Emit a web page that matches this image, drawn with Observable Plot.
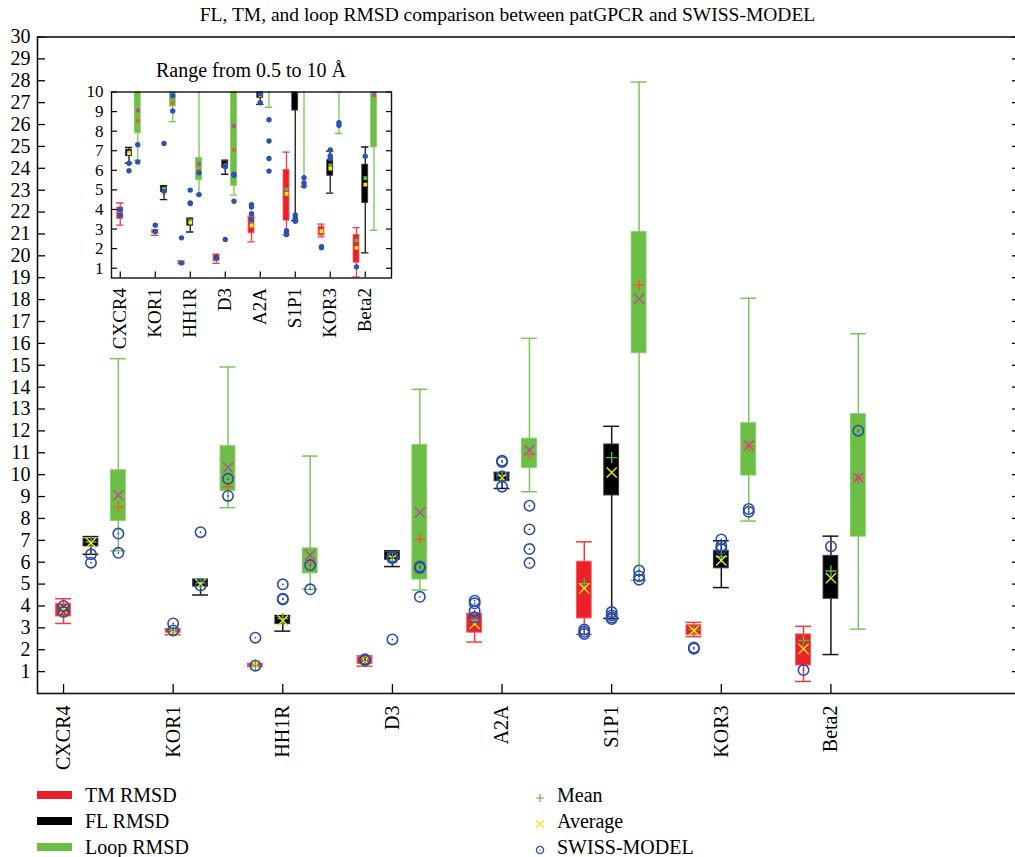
<!DOCTYPE html>
<html><head><meta charset="utf-8">
<script src="https://cdn.jsdelivr.net/npm/d3@7"></script>
<script src="https://cdn.jsdelivr.net/npm/@observablehq/plot@0.6"></script>
<style>
body{margin:0;width:1015px;height:857px;overflow:hidden;background:#fff;position:relative;font-family:"Liberation Serif",serif;color:#000}
#title{position:absolute;left:0;top:0;width:1015px;text-align:center;font-size:19.5px;line-height:30px}
#main{position:absolute;left:0;top:26px}
#insetTitle{position:absolute;left:101px;width:300px;top:56px;text-align:center;font-size:20px;line-height:28px}
#inset{position:absolute;left:60px;top:84px}
.lg{position:absolute;height:26px;line-height:26px;font-size:20px;white-space:nowrap}
.sw{position:absolute;width:35px;height:8px}
</style></head><body>
<div id="title">FL, TM, and loop RMSD comparison between patGPCR and SWISS-MODEL</div>
<div id="main"></div>
<div id="insetTitle">Range from 0.5 to 10 Å</div>
<div id="inset"></div>
<div id="legend"></div>
<script>
// ---- data (Å) ----
const groups = ["CXCR4","KOR1","HH1R","D3","A2A","S1P1","KOR3","Beta2"];

const tmLo   = [3.20, 2.68, 1.24, 1.25, 2.35, 2.70, 2.60, 0.55];
const tmQ1   = [3.52, 2.78, 1.27, 1.35, 2.78, 3.43, 2.67, 1.28];
const tmQ3   = [4.10, 2.93, 1.35, 1.66, 3.62, 6.02, 3.12, 2.70];
const tmHi   = [4.33, 2.96, 1.37, 1.72, 3.66, 6.93, 3.25, 3.07];
const tmMean = [3.86, 2.88, 1.31, 1.52, 3.36, 5.03, 2.92, 2.42];
const tmAvg  = [3.83, 2.87, 1.30, 1.50, 3.18, 4.80, 2.88, 2.04];
const tmSwiss = [[4.00,3.72],[3.20,2.88],[1.27,2.55],[1.52,1.56],[4.24,4.12,3.78,3.48],[2.92,2.82,2.72],[2.10,2.05],[1.07]];

const flLo   = [6.36, 4.50, 2.85, 5.80, 9.37, 3.43, 4.84, 1.78];
const flQ1   = [6.72, 4.88, 3.17, 6.11, 9.70, 9.05, 5.72, 4.33];
const flQ3   = [7.06, 5.17, 3.49, 6.45, 10.08, 11.38, 6.52, 6.29];
const flHi   = [7.17, 5.22, 3.56, 6.52, 10.10, 12.21, 6.98, 7.19];
const flMean = [6.92, 5.05, 3.42, 6.25, 9.95, 10.78, 6.25, 5.60];
const flAvg  = [6.88, 5.00, 3.33, 6.18, 9.85, 10.10, 6.08, 5.27];
const flSwiss = [[6.36,5.98],[4.93,7.37],[4.99,4.33,4.30],[6.24,6.18,2.47],[10.64,10.58,9.92,9.45],[3.72,3.57,3.47,3.40],[7.04,6.74,6.60],[6.72]];

const loopLo   = [6.52, 8.49, 4.76, 4.73, 9.22, 5.17, 7.88, 2.94];
const loopQ1   = [7.89, 9.26, 5.49, 5.21, 10.31, 15.55, 9.96, 7.17];
const loopQ3   = [10.20, 11.30, 6.63, 11.35, 11.64, 21.08, 12.35, 12.76];
const loopHi   = [15.30, 14.92, 10.85, 13.90, 16.23, 27.94, 18.06, 16.44];
const loopMean = [8.53, 9.44, 5.97, 7.05, 10.94, 18.68, 11.30, 9.83];
const loopAvg  = [9.06, 10.33, 6.32, 8.26, 11.12, 18.03, 11.34, 9.86];
const loopSwiss = [[7.31,6.43],[9.81,9.03],[5.87,4.76],[5.80,5.74,4.42],[8.58,7.50,6.60,5.96],[5.62,5.36,5.20],[8.43,8.30],[12.01]];

// ---- layout (slot positions on a linear x scale) ----
const groupSlot = [0, 4, 7, 11, 15, 19, 23, 27];
const tickSlots = [0, 4, 8, 12, 16, 20, 24, 28];
const tickName = d => groups[tickSlots.indexOf(d)];

const types = [
  {name:"TM RMSD", lo:tmLo, q1:tmQ1, q3:tmQ3, hi:tmHi, mean:tmMean, avg:tmAvg, swiss:tmSwiss,
   fill:"#ED2027", edge:"#F15A5E", whisker:"#EE3C40", meanC:"#57B646", avgC:"#F2E620"},
  {name:"FL RMSD", lo:flLo, q1:flQ1, q3:flQ3, hi:flHi, mean:flMean, avg:flAvg, swiss:flSwiss,
   fill:"#000000", edge:"#3a3a3a", whisker:"#161616", meanC:"#57B646", avgC:"#F2E620"},
  {name:"Loop RMSD", lo:loopLo, q1:loopQ1, q3:loopQ3, hi:loopHi, mean:loopMean, avg:loopAvg, swiss:loopSwiss,
   fill:"#6CBE45", edge:"#86CA66", whisker:"#7CC45A", meanC:"#F15A29", avgC:"#B24F9E"}
];

function rowsOf(t, k) {
  return groups.map((g, i) => ({x: groupSlot[i] + k, lo: t.lo[i], q1: t.q1[i], q3: t.q3[i], hi: t.hi[i], mean: t.mean[i], avg: t.avg[i]}));
}
function swissOf(t, k) {
  return groups.flatMap((g, i) => t.swiss[i].map(v => ({x: groupSlot[i] + k, v})));
}

function dataMarks(s) {
  const c = s.clip;
  const out = [];
  types.forEach((t, k) => {
    const rows = rowsOf(t, k);
    out.push(
      Plot.ruleX(rows, {x: "x", y1: "lo", y2: "hi", stroke: t.whisker, strokeWidth: s.ww, clip: c}),
      Plot.ruleY(rows, {y: "lo", x1: d => d.x - s.cap, x2: d => d.x + s.cap, stroke: t.whisker, strokeWidth: s.ww, clip: c}),
      Plot.ruleY(rows, {y: "hi", x1: d => d.x - s.cap, x2: d => d.x + s.cap, stroke: t.whisker, strokeWidth: s.ww, clip: c}),
      Plot.rect(rows, {x1: d => d.x - s.half, x2: d => d.x + s.half, y1: "q1", y2: "q3", fill: t.fill, stroke: t.edge, strokeWidth: s.edgeW, clip: c})
    );
  });
  types.forEach((t, k) => {
    const rows = rowsOf(t, k);
    if (s.inset) {
      out.push(
        Plot.dot(rows, {x: "x", y: "mean", symbol: "square", r: 2.1, fill: t.meanC, clip: c}),
        Plot.dot(rows, {x: "x", y: "avg", symbol: "square", r: 2.1, fill: t.avgC, clip: c})
      );
    } else {
      out.push(
        Plot.dot(rows, {x: "x", y: "mean", symbol: "plus", r: 3.7, stroke: t.meanC, strokeWidth: 1.4, clip: c}),
        Plot.dot(rows, {x: "x", y: "avg", symbol: "times", r: 4.7, stroke: t.avgC, strokeWidth: 1.4, clip: c})
      );
    }
  });
  types.forEach((t, k) => {
    const sw = swissOf(t, k);
    if (s.inset) {
      out.push(Plot.dot(sw, {x: "x", y: "v", r: 2.7, fill: "#2F52B0", clip: c}));
    } else {
      out.push(
        Plot.dot(sw, {x: "x", y: "v", r: 5.2, stroke: "#2C4DA8", strokeWidth: 1.6, fill: "none", clip: c}),
        Plot.dot(sw, {x: "x", y: "v", r: 0.9, fill: "#2C4DA8", clip: c})
      );
    }
  });
  return out;
}

// ---- main chart ----
const yTicks = d3.range(1, 31);
const main = Plot.plot({
  width: 1019, height: 744,
  marginTop: 10.5, marginBottom: 77, marginLeft: 37, marginRight: 0,
  x: {domain: [-0.95, 34.88]},
  y: {domain: [0, 30]},
  style: {fontFamily: "Liberation Serif", fontSize: "20px", background: "none", maxWidth: "none", color: "#000", overflow: "visible"},
  marks: [
    ...dataMarks({clip: false, inset: false, half: 0.27, cap: 0.29, ww: 1.5, edgeW: 1}),
    Plot.axisY(yTicks, {anchor: "left", tickSize: 0, tickPadding: 7, label: null}),
    Plot.axisY(yTicks, {anchor: "left", tickSize: -8, fill: "none", label: null, strokeWidth: 1.3}),
    Plot.axisY(yTicks, {anchor: "right", tickSize: -8, fill: "none", label: null, strokeWidth: 1.3}),
    Plot.axisX(tickSlots, {anchor: "bottom", tickSize: 0, tickPadding: 12, tickRotate: -90, tickFormat: tickName, label: null}),
    Plot.axisX(tickSlots, {anchor: "bottom", tickSize: -9, fill: "none", label: null, strokeWidth: 1.3}),
    Plot.frame({stroke: "#111", strokeWidth: 1.6})
  ]
});
document.getElementById("main").append(main);

// ---- inset chart (range 0.5 to 10 Å) ----
const iyTicks = d3.range(1, 11);
const inset = Plot.plot({
  width: 340, height: 268,
  marginTop: 7.5, marginBottom: 74.5, marginLeft: 51, marginRight: 9,
  x: {domain: [-1, 31]},
  y: {domain: [0.5, 10]},
  style: {fontFamily: "Liberation Serif", fontSize: "19px", background: "#fff", maxWidth: "none", color: "#000", overflow: "visible"},
  marks: [
    ...dataMarks({clip: true, inset: true, half: 0.34, cap: 0.42, ww: 1.3, edgeW: 0.8}),
    Plot.axisY(iyTicks, {anchor: "left", tickSize: 0, tickPadding: 8, label: null, fontSize: 17}),
    Plot.axisY(iyTicks, {anchor: "left", tickSize: -6, fill: "none", label: null, strokeWidth: 1.2}),
    Plot.axisY(iyTicks, {anchor: "right", tickSize: -6, fill: "none", label: null, strokeWidth: 1.2}),
    Plot.axisX(tickSlots, {anchor: "bottom", tickSize: 0, tickPadding: 10, tickRotate: -90, tickFormat: tickName, label: null}),
    Plot.axisX(tickSlots, {anchor: "bottom", tickSize: -6, fill: "none", label: null, strokeWidth: 1.2}),
    Plot.frame({stroke: "#111", strokeWidth: 1.4})
  ]
});
document.getElementById("inset").append(inset);

// ---- legend ----
const legend = document.getElementById("legend");
const rowY = [795, 821, 847];
types.forEach((t, i) => {
  const sw = document.createElement("div");
  sw.className = "sw";
  sw.style.left = "37px"; sw.style.top = (rowY[i] - 4) + "px"; sw.style.background = t.fill;
  legend.append(sw);
  const tx = document.createElement("div");
  tx.className = "lg"; tx.style.left = "85px"; tx.style.top = (rowY[i] - 13) + "px";
  tx.textContent = t.name;
  legend.append(tx);
});
const glyphs = [
  {label: "Mean", svg: '<path d="M0,-4V4M-4,0H4" stroke="#57B646" stroke-width="1.2"/>'},
  {label: "Average", svg: '<path d="M-4,-4L4,4M-4,4L4,-4" stroke="#F2E620" stroke-width="1.2"/>'},
  {label: "SWISS-MODEL", svg: '<circle r="3.6" fill="none" stroke="#2C4DA8" stroke-width="1.3"/><circle r="0.7" fill="#2C4DA8"/>'}
];
glyphs.forEach((g, i) => {
  const s = document.createElementNS("http://www.w3.org/2000/svg", "svg");
  s.setAttribute("width", 12); s.setAttribute("height", 12);
  s.setAttribute("viewBox", "-6 -6 12 12");
  s.style.position = "absolute"; s.style.left = "534px"; s.style.top = (rowY[i] - 3) + "px";
  s.innerHTML = g.svg;
  legend.append(s);
  const tx = document.createElement("div");
  tx.className = "lg"; tx.style.left = "557px"; tx.style.top = (rowY[i] - 13) + "px";
  tx.textContent = g.label;
  legend.append(tx);
});
</script>
</body></html>
